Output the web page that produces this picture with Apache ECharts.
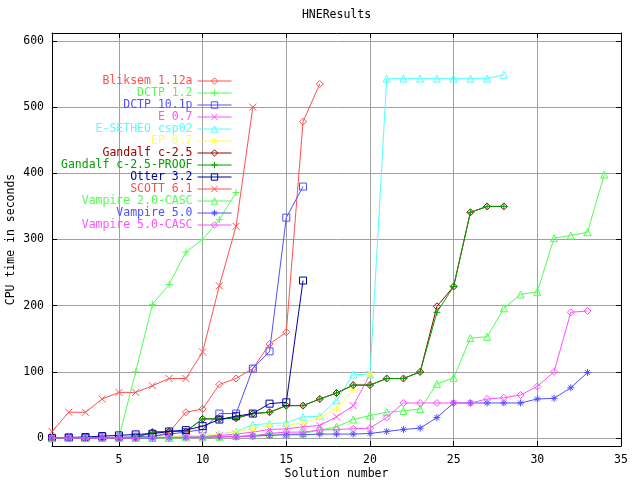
<!DOCTYPE html>
<html>
<head>
<meta charset="utf-8">
<script src="https://cdn.jsdelivr.net/npm/echarts@6/dist/echarts.min.js"></script>
<style>html,body{margin:0;padding:0;background:#fff}#c{width:640px;height:480px}</style>
</head>
<body>
<div id="c"></div>
<script>
// ---- data (CPU time in seconds per solution number, starting at 1) ----
var seriesNames = ["Bliksem 1.12a","DCTP 1.2","DCTP 10.1p","E 0.7","E-SETHEO csp02","EP 0.7",
  "Gandalf c-2.5","Gandalf c-2.5-PROOF","Otter 3.2","SCOTT 6.1","Vampire 2.0-CASC","Vampire 5.0","Vampire 5.0-CASC"];
var bliksem = [0,0,0,0,0,0,1,9,39,44,81,90,105,142,160,478,535];
var dctp12 = [0,0,0,0,1,100,202,232,281,300,330,371];
var dctp101p = [0,0,0,1,1,2,3,6,9,13,37,37,105,131,333,380];
var e07 = [0,0,0,0,0,0,1,1,2,3,4,6,9,13,14,17,19,32,49,96];
var esetheo = [0,0,0,0,0,1,1,2,3,4,6,10,20,22,23,32,33,57,96,96,543,543,543,543,543,543,543,549];
var ep07 = [0,0,0,0,0,1,1,2,3,4,6,9,14,19,19,23,31,44,72,96];
var gandalf = [0,0,0,0,0,1,9,10,10,29,29,30,37,39,49,49,59,68,80,80,90,90,100,199,229,341,350,350];
var gandalfProof = [0,0,0,0,0,1,9,10,10,29,29,30,37,39,49,49,59,68,80,80,90,90,100,190,229,341,350,350];
var otter = [0,1,1.5,3,4,5.5,6.5,10,12,18,28,33,37,52,54,238];
var scott = [10,39,39,59,69,69,79,90,90,130,230,320,500];
var vampire20 = [0,0,0,0,0,0,0,0,1,1,2,3,4,6,6,7,12,17,28,34,39,41,44,82,91,151,153,196,217,221,302,306,311,398];
var vampire50 = [0,0,0,0,0,0,0,1,1,1,2,2,3,4,5,5,6,6,6,7,10,13,15,31,53,53,53,53,53,59,60,76,99];
var vampire50casc = [0,0,0,0,0,0,1,1,1,1,2,2,3,7,9,9,12,13,14,15,31,53,53,53,53,53,59,61,65,78,100,190,192];
var xTicks = [5,10,15,20,25,30,35];
var yTicks = [0,100,200,300,400,500,600];

var allValues = [bliksem,dctp12,dctp101p,e07,esetheo,ep07,gandalf,gandalfProof,otter,scott,vampire20,vampire50,vampire50casc];
var colors = ["#ff5050","#50ff50","#5050ff","#ff50ff","#50ffff","#ffff50","#a00000","#00a000","#0000a0",
  "#ff5050","#50ff50","#5050ff","#ff50ff"];
var SYM = {
  diamond: 'path://M5 0 L10 5 L5 10 L0 5 Z',
  plus: 'path://M5 0 L5 10 M0 5 L10 5',
  box: 'path://M0 0 L10 0 L10 10 L0 10 Z',
  cross: 'path://M0 0 L10 10 M10 0 L0 10',
  tri: 'path://M5 0 L10 9 L0 9 Z',
  star: 'path://M5 0 L5 10 M0 5 L10 5 M1.5 1.5 L8.5 8.5 M8.5 1.5 L1.5 8.5'
};
var symOrder = [SYM.diamond,SYM.plus,SYM.box,SYM.cross,SYM.tri,SYM.star];

var FONT = 'DejaVu Sans Mono';
var FS = 11.5;

var series = seriesNames.map(function(name, i){
  var vals = allValues[i];
  return {
    name: name,
    type: 'line',
    xAxisIndex: 0, yAxisIndex: 0,
    data: vals.map(function(v, k){ return [k+1, v]; }),
    symbol: symOrder[i % 6],
    symbolSize: 7,
    showAllSymbol: true,
    lineStyle: {color: colors[i], width: 1},
    itemStyle: {color: 'transparent', borderColor: colors[i], borderWidth: 1},
    emphasis: {disabled: true},
    animation: false,
    z: 2 + i
  };
});

var axisLineStyle = {show: true, onZero: false, lineStyle: {color: '#000', width: 1}};

var chart = echarts.init(document.getElementById('c'), null, {renderer: 'canvas'});
chart.setOption({
  animation: false,
  backgroundColor: '#fff',
  textStyle: {fontFamily: FONT},
  grid: {left: 52, right: 19, top: 33, bottom: 34, containLabel: false, outerBoundsMode: 'none'},
  graphic: [{
    type: 'text', x: 336.5, y: 15,
    style: {text: 'HNEResults', font: FS + 'px "' + FONT + '"', fill: '#000', align: 'center', verticalAlign: 'middle'}
  }],
  legend: {
    orient: 'vertical',
    align: 'right',
    right: 408,
    top: 75,
    padding: 0,
    itemGap: 0,
    itemWidth: 34,
    itemHeight: 8,
    selectedMode: false,
    lineStyle: {width: 1},
    itemStyle: {borderWidth: 1},
    textStyle: {fontFamily: FONT, fontSize: FS, lineHeight: 11},
    data: seriesNames.map(function(n, i){ return {name: n, textStyle: {color: colors[i]}}; })
  },
  xAxis: [{
    type: 'value', position: 'bottom', min: 1, max: 35,
    axisLine: axisLineStyle,
    axisTick: {show: true, inside: true, length: 5, lineStyle: {color: '#000'}, customValues: xTicks},
    axisLabel: {customValues: xTicks, color: '#000', fontFamily: FONT, fontSize: FS, margin: 8},
    splitLine: {show: true, lineStyle: {color: '#a0a0a0', width: 1}},
    name: 'Solution number', nameLocation: 'middle', nameGap: 22, nameMoveOverlap: false,
    nameTextStyle: {color: '#000', fontFamily: FONT, fontSize: FS}
  }, {
    type: 'value', position: 'top', min: 1, max: 35,
    axisLine: axisLineStyle,
    axisTick: {show: true, inside: true, length: 5, lineStyle: {color: '#000'}, customValues: xTicks},
    axisLabel: {show: false, customValues: xTicks},
    splitLine: {show: false}
  }],
  yAxis: [{
    type: 'value', position: 'left', min: -12, max: 612,
    axisLine: axisLineStyle,
    axisTick: {show: true, inside: true, length: 5, lineStyle: {color: '#000'}, customValues: yTicks},
    axisLabel: {customValues: yTicks, color: '#000', fontFamily: FONT, fontSize: FS, margin: 8},
    splitLine: {show: true, lineStyle: {color: '#a0a0a0', width: 1}},
    name: 'CPU time in seconds', nameLocation: 'middle', nameGap: 35, nameRotate: 90, nameMoveOverlap: false,
    nameTextStyle: {color: '#000', fontFamily: FONT, fontSize: FS}
  }, {
    type: 'value', position: 'right', min: -12, max: 612,
    axisLine: axisLineStyle,
    axisTick: {show: true, inside: true, length: 5, lineStyle: {color: '#000'}, customValues: yTicks},
    axisLabel: {show: false, customValues: yTicks},
    splitLine: {show: false}
  }],
  series: series
});
</script>
</body>
</html>
